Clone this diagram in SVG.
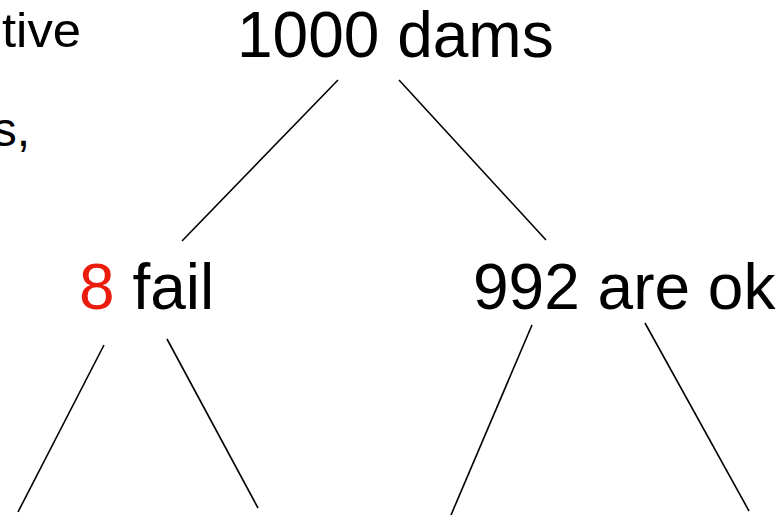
<svg xmlns="http://www.w3.org/2000/svg" width="784" height="515" viewBox="0 0 784 515">
<style>
text{font-family:"Liberation Sans",Arial,sans-serif;fill:#000}
.big{font-size:64px}
.side{font-size:48px}
.red{fill:#ec1c0c}
.edge{stroke:#000;stroke-width:1.6;fill:none}
</style>
<rect width="784" height="515" fill="#fff"/>
<g id="side-text">
<text class="side" x="2" y="47" textLength="79" lengthAdjust="spacingAndGlyphs">tive</text>
<text class="side" x="30" y="146" text-anchor="end">s,</text>
</g>
<g id="node-root"><text class="big" x="237" y="57">1000 dams</text></g>
<g id="node-fail"><text class="big" x="79" y="309"><tspan class="red">8</tspan> fail</text></g>
<g id="node-ok"><text class="big" x="473" y="309">992 are ok</text></g>
<g id="connectors">
<line class="edge" x1="338" y1="80" x2="182" y2="241"/>
<line class="edge" x1="399" y1="80" x2="546" y2="240"/>
<line class="edge" x1="104" y1="345" x2="18" y2="512"/>
<line class="edge" x1="167" y1="339" x2="258" y2="508"/>
<line class="edge" x1="532" y1="325" x2="451" y2="515"/>
<line class="edge" x1="645" y1="323" x2="749" y2="511"/>
</g>
</svg>
